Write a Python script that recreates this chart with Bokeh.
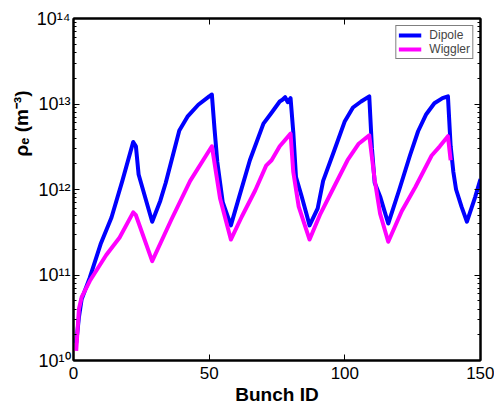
from bokeh.plotting import figure
from bokeh.models import (FixedTicker, LinearAxis, LogAxis, Legend, LegendItem,
                          Range1d, CustomJSTickFormatter)
from bokeh.embed import file_html
from bokeh.resources import INLINE

# ---------------- data ----------------
dipole_id = [1, 2, 3, 6, 10, 14, 18, 22, 23, 24, 29,
             32, 34, 39, 42, 46, 50, 51, 52, 53, 55, 58,
             61, 65, 70, 73, 76, 77, 78, 79, 80, 81, 82, 84, 86, 87,
             90, 92, 96, 100, 103, 106, 109, 110, 111, 113, 116,
             120, 124, 127, 130, 133, 136, 138, 139, 140, 141, 143, 145, 148, 150]
dipole_rho = [1.6e10, 3.2e10, 5.2e10, 9.3e10, 2.3e11, 4.7e11, 1.26e12, 3.6e12, 3.2e12, 1.5e12, 4.2e11,
              7.4e11, 1.2e12, 4.9e12, 7.1e12, 9.8e12, 1.23e13, 1.29e13, 5.0e12, 2.1e12, 7.1e11, 3.8e11,
              8.1e11, 2.2e12, 5.9e12, 7.9e12, 1.07e13, 1.12e13, 1.2e13, 1.05e13, 1.17e13, 4.7e12, 1.4e12, 8.5e11, 5.0e11, 3.8e11,
              6.0e11, 1.26e12, 2.8e12, 6.3e12, 9.1e12, 1.07e13, 1.23e13, 3.0e12, 1.2e12, 8.3e11, 4.0e11,
              9.8e11, 2.5e12, 4.8e12, 7.6e12, 1.02e13, 1.17e13, 1.23e13, 3.2e12, 1.6e12, 1.0e12, 6.3e11, 4.2e11, 8.1e11, 1.32e12]

wiggler_id = [1, 2, 3, 6, 12, 17, 22, 23, 29,
              36, 43, 51, 54, 58,
              62, 67, 71, 73, 76, 80, 81, 83, 87,
              91, 96, 101, 105, 109, 111, 113, 116,
              121, 126, 132, 135, 138, 139]
wiggler_rho = [1.3e10, 4.0e10, 5.5e10, 8.5e10, 1.7e11, 2.75e11, 5.4e11, 5.0e11, 1.45e11,
               4.4e11, 1.26e12, 3.2e12, 7.9e11, 2.6e11,
               4.8e11, 9.8e11, 1.9e12, 2.2e12, 3.2e12, 4.5e12, 1.6e12, 6.3e11, 2.6e11,
               5.2e11, 1.07e12, 2.2e12, 3.4e12, 4.3e12, 1.3e12, 5.2e11, 2.45e11,
               5.6e11, 1.07e12, 2.5e12, 3.2e12, 4.2e12, 2.2e12]

series_names = ["Dipole", "Wiggler"]
series_colors = ["#0000FF", "#FF00FF"]
x_ticks = [0, 50, 100, 150]
y_exponents = [10, 11, 12, 13, 14]
x_label = "Bunch ID"
y_label = "ρₑ (m⁻³)"

FONT = "Liberation Sans"

p = figure(frame_width=407, frame_height=342,
           x_range=Range1d(x_ticks[0], x_ticks[-1]),
           y_range=Range1d(10.0 ** y_exponents[0], 10.0 ** y_exponents[-1]),
           y_axis_type="log", output_backend="svg", toolbar_location=None,
           min_border_left=73, min_border_top=18,
           min_border_right=14, min_border_bottom=47)
p.background_fill_color = "white"
p.border_fill_color = "white"
p.xgrid.visible = False
p.ygrid.visible = False
p.outline_line_color = "black"
p.outline_line_width = 2

xt = FixedTicker(ticks=x_ticks, minor_ticks=[])
yt = FixedTicker(ticks=[10.0 ** e for e in y_exponents],
                 minor_ticks=[k * 10.0 ** e for e in y_exponents[:-1] for k in range(2, 10)])


def style_axis(ax):
    ax.axis_line_width = 2
    ax.axis_line_color = "black"
    ax.major_tick_in = 6
    ax.major_tick_out = 0
    ax.minor_tick_in = 3
    ax.minor_tick_out = 0
    ax.major_tick_line_color = "black"
    ax.minor_tick_line_color = "black"


p.xaxis.ticker = xt
p.yaxis.ticker = yt
for ax in p.xaxis + p.yaxis:
    style_axis(ax)

p.xaxis.major_label_text_font = FONT
p.xaxis.major_label_text_font_size = "17px"
p.xaxis.major_label_text_color = "black"
p.xaxis.major_label_standoff = 6
p.xaxis.axis_label = x_label
p.xaxis.axis_label_text_font = FONT
p.xaxis.axis_label_text_font_size = "19px"
p.xaxis.axis_label_text_font_style = "bold"
p.xaxis.axis_label_text_color = "black"
p.xaxis.axis_label_standoff = 2

p.yaxis.formatter = CustomJSTickFormatter(code="""
const sup = {'0':'\u2070','1':'\u00b9','2':'\u00b2','3':'\u00b3','4':'\u2074',
             '5':'\u2075','6':'\u2076','7':'\u2077','8':'\u2078','9':'\u2079','-':'\u207b'};
const e = Math.round(Math.log10(tick));
return '10' + String(e).split('').map(c => sup[c]).join('');
""")
p.yaxis.major_label_text_font = FONT
p.yaxis.major_label_text_font_size = "18px"
p.yaxis.major_label_text_color = "black"
p.yaxis.major_label_standoff = 3
# the reference title sits in the upper part of the axis: pad its start with no-break spaces
p.yaxis.axis_label = "\u00a0" * 25 + y_label
p.yaxis.axis_label_text_font = FONT
p.yaxis.axis_label_text_font_size = "19px"
p.yaxis.axis_label_text_font_style = "bold"
p.yaxis.axis_label_text_color = "black"
p.yaxis.axis_label_standoff = 2

empty = CustomJSTickFormatter(code="return '';")
top = LinearAxis(ticker=xt, formatter=empty, major_label_text_font_size="0px")
right = LogAxis(ticker=yt, formatter=empty, major_label_text_font_size="0px")
style_axis(top)
style_axis(right)
p.add_layout(top, "above")
p.add_layout(right, "right")

r1 = p.line(dipole_id, dipole_rho, line_color=series_colors[0], line_width=4, line_join="round")
r2 = p.line(wiggler_id, wiggler_rho, line_color=series_colors[1], line_width=4, line_join="round")

legend = Legend(items=[LegendItem(label=series_names[0], renderers=[r1]),
                       LegendItem(label=series_names[1], renderers=[r2])],
                location="top_right", margin=7, padding=2, spacing=0,
                label_height=12, glyph_height=12, glyph_width=23, label_standoff=8,
                label_text_font=FONT, label_text_font_size="12px",
                border_line_color="black", border_line_width=1,
                background_fill_color="white", background_fill_alpha=1)
p.add_layout(legend)

open("out.html", "w", encoding="utf-8").write(file_html(p, INLINE))
